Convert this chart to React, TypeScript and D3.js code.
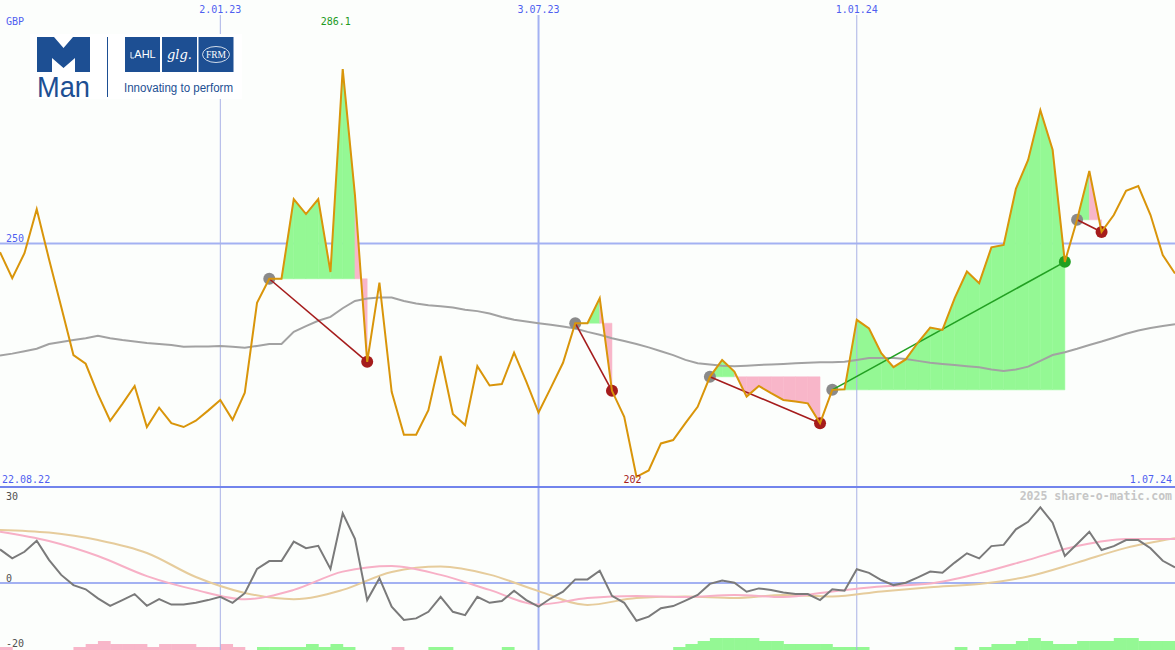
import React from "react";
import * as d3 from "d3";

// ---------- DATA ----------
const startDate = new Date(2022, 7, 29);
const endDate = new Date(2024, 6, 1);
const weeks: Date[] = d3.timeMonday.range(startDate, new Date(2024, 6, 2));

const price: number[] = [
  248.2, 242.8, 248.0, 257.1, 246.8, 236.9, 226.9, 225.1, 218.8, 213.3,
  216.8, 220.5, 212.0, 216.0, 212.8, 212.0, 213.3, 215.4, 217.6, 213.5,
  219.1, 237.7, 242.7, 242.7, 259.2, 256.1, 259.2, 244.1, 286.1, 260.0,
  225.5, 241.9, 219.3, 210.4, 210.4, 215.5, 226.7, 214.7, 212.4, 224.6,
  220.6, 220.9, 227.4, 221.4, 215.0, 220.1, 225.3, 233.5, 233.5, 238.7,
  219.5, 214.1, 201.7, 203.0, 208.6, 209.3, 212.8, 216.2, 222.4, 225.9,
  223.5, 218.3, 220.5, 219.0, 217.6, 217.3, 216.9, 212.8, 219.7, 219.8,
  234.2, 232.4, 227.3, 224.4, 226.0, 229.5, 232.6, 232.1, 238.7, 244.2,
  241.8, 249.2, 249.7, 261.3, 267.3, 277.6, 269.4, 246.2, 254.9, 265.0,
  252.4, 255.9, 260.9, 261.9, 255.9, 247.6, 243.8,
];

const movingAvg: number[] = [
  226.8, 227.2, 227.7, 228.2, 229.2, 229.6, 230.0, 230.4, 230.9, 230.4,
  230.0, 229.7, 229.4, 229.2, 229.0, 228.6, 228.7, 228.7, 228.8, 228.6,
  228.4, 228.8, 229.2, 229.2, 231.7, 232.9, 234.0, 234.8, 236.6, 238.1,
  238.6, 238.8, 238.8, 238.1, 237.6, 237.2, 237.0, 236.75, 236.3, 236.0,
  235.5, 234.8, 234.2, 233.85, 233.5, 233.2, 232.8, 232.4, 231.7, 231.1,
  230.4, 229.8, 229.2, 228.5, 227.7, 226.9, 225.9, 225.2, 224.95, 224.7,
  224.6, 224.7, 224.85, 224.95, 225.05, 225.2, 225.3, 225.4, 225.4, 225.5,
  225.9, 226.3, 226.3, 226.3, 226.1, 225.7, 225.3, 225.05, 224.85, 224.6,
  224.4, 223.9, 223.6, 223.9, 224.5, 225.7, 226.9, 227.5, 228.2, 229.0,
  229.7, 230.5, 231.3, 232.0, 232.5, 232.9, 233.3,
];

const momentum: number[] = [
  11.2, 8.2, 10.4, 14.1, 7.7, 2.7, -0.7, -2.1, -5.1, -7.6,
  -5.7, -3.7, -7.6, -5.4, -7.2, -7.2, -6.6, -5.7, -4.6, -6.6,
  -3.4, 4.7, 7.3, 7.3, 13.8, 11.6, 12.4, 4.7, 23.2, 14.7,
  -5.7, 1.6, -7.9, -12.3, -11.8, -9.6, -4.6, -9.6, -10.7, -4.6,
  -6.6, -6.0, -2.6, -5.7, -7.9, -5.1, -2.9, 1.2, 1.2, 4.1,
  -4.3, -6.6, -12.6, -11.2, -8.4, -7.7, -5.9, -4.0, -0.3, 0.8,
  0.1, -2.9, -1.8, -2.3, -3.2, -3.7, -3.7, -5.7, -2.1, -2.6,
  4.6, 3.4, 1.0, -0.7, 0.1, 1.9, 3.8, 3.4, 6.8, 9.9,
  8.2, 12.3, 12.7, 17.9, 20.4, 25.2, 20.1, 9.0, 13.0, 17.1,
  11.0, 12.3, 14.3, 14.3, 11.6, 7.4, 5.2,
];

// smoothed signal lines, sampled every 4th week (week index 0, 4, 8 ... 96)
const signalWeekIdx: number[] = [0, 4, 8, 12, 16, 20, 24, 28, 32, 36, 40, 44, 48, 52, 56, 60, 64, 68, 72, 76, 80, 84, 88, 92, 96];
const signalFast: number[] = [17.1, 14.0, 9.0, 2.3, -2.3, -5.4, -2.3, 3.8, 5.7, 2.7, -2.3, -7.2, -5.0, -4.3, -4.7, -4.0, -4.7, -2.8, -1.2, -0.2, 3.2, 7.7, 12.3, 14.7, 14.7];
const signalSlow: number[] = [17.7, 16.8, 14.3, 10.0, 2.0, -3.3, -5.4, -2.3, 3.7, 5.5, 2.8, -2.7, -7.3, -5.0, -4.5, -5.0, -4.0, -4.5, -2.8, -1.4, -0.3, 2.2, 6.8, 11.7, 14.9];

// weekly histogram level (+ green, - pink)
const histogram: number[] = [
  -1, 0, 0, 0, 0, 0, -1, -2, -3, -2,
  -2, -2, -1, -2, -2, -2, -1, -1, -2, -1,
  0, 1, 1, 1, 1, 2, 1, 2, 1, 0,
  0, 0, -1, 0, 0, 1, 1, 0, 0, 0,
  0, 1, 0, 0, 0, 0, 0, 0, 0, 0,
  0, 0, 0, 0, 0, 1, 2, 3, 4, 4,
  4, 4, 3, 3, 2, 2, 2, 2, 1, 1,
  1, 0, 0, 0, 0, 0, 0, 0, 1, 0,
  1, 2, 2, 3, 4, 3, 2, 2, 3, 3,
  3, 4, 4, 3, 3, 3, 0,
];

// trades (week indices)
const tradeEntry: number[] = [22, 47, 58, 68, 88];
const tradeExit: number[] = [30, 50, 67, 87, 90];

const gridDates: Date[] = [new Date(2023, 0, 2), new Date(2023, 6, 3), new Date(2024, 0, 1)];
const gridLabels: string[] = ["2.01.23", "3.07.23", "1.01.24"];
const priceGridValues: number[] = [250];
const lowTicks: number[] = [30, 0, -20];
const startLabel = "22.08.22";
const endLabel = "1.07.24";
const currency = "GBP";
const credit = "2025 share-o-matic.com";

// ---------- LAYOUT ----------
const W = 1175;
const H = 650;
const MAIN_BOTTOM = 487;

const x = d3.scaleTime().domain([startDate, endDate]).range([0, W]);
const y = d3.scaleLinear().domain([200, 300]).range([485, 2]);
const yLow = d3.scaleLinear().domain([-20, 30]).range([643, 493]);
const barH = d3.scaleLinear().domain([0, 4]).range([0, 12]);

const C = {
  bg: "#fcfefc",
  grid: "#a3b1f2",
  gridThin: "#aab2e6",
  border: "#7284ec",
  label: "#4f5ff0",
  price: "#d9950a",
  ma: "#a2a2a2",
  green: "#94f894",
  pink: "#f8b6c9",
  darkRed: "#a51c1c",
  darkGreen: "#22a022",
  grey: "#8a8a8a",
  mom: "#7a7a7a",
  fast: "#f7b0c6",
  slow: "#e6cc9c",
  logo: "#1d4f93",
};

const mono = "'DejaVu Sans Mono', monospace";

function Logo() {
  const bx = 37, by = 37;
  const mPts = [
    [0, 0], [17, 0], [26.5, 11], [36, 0], [53, 0], [53, 35], [38, 35], [38, 21],
    [26.5, 31], [15, 21], [15, 35], [0, 35],
  ].map((p) => `${bx + p[0]},${by + p[1]}`).join(" ");
  return (
    <g>
      <rect x={30} y={34} width={212} height={65} fill="#ffffff" />
      <polygon points={mPts} fill={C.logo} />
      <text x={37} y={97} fontFamily="'Liberation Sans', Arial, sans-serif" fontSize={29}
        fill={C.logo} textLength={53} lengthAdjust="spacingAndGlyphs">Man</text>
      <line x1={107.5} x2={107.5} y1={37} y2={97} stroke={C.logo} strokeWidth={1} />
      <rect x={125} y={37} width={35} height={35} fill={C.logo} />
      <rect x={162} y={37} width={35} height={35} fill={C.logo} />
      <rect x={198.5} y={37} width={35} height={35} fill={C.logo} />
      <path d="M131,52 L131,58 L134,58" stroke="#fff" strokeWidth={0.9} fill="none" />
      <text x={145} y={58} textAnchor="middle" fontFamily="'Liberation Sans', Arial, sans-serif"
        fontSize={11} fill="#fff">AHL</text>
      <text x={179.5} y={59} textAnchor="middle" fontFamily="'DejaVu Serif', serif" fontStyle="italic"
        fontSize={13} fill="#fff">glg.</text>
      <ellipse cx={216} cy={54.5} rx={13.5} ry={8} fill="none" stroke="#fff" strokeWidth={0.8} />
      <text x={216} y={58} textAnchor="middle" fontFamily="'Liberation Serif', serif"
        fontSize={9.5} fill="#fff">FRM</text>
      <text x={124} y={92} fontFamily="'Liberation Sans', Arial, sans-serif" fontSize={12}
        fill={C.logo} textLength={109} lengthAdjust="spacingAndGlyphs">Innovating to perform</text>
    </g>
  );
}

export default function App() {
  const px = (i: number) => x(weeks[i]);
  const priceLine = d3.line<number>().x((_, i) => px(i)).y((v) => y(v))(price) || "";
  const maLine = d3.line<number>().x((_, i) => px(i)).y((v) => y(v))(movingAvg) || "";
  const momLine = d3.line<number>().x((_, i) => px(i)).y((v) => yLow(v))(momentum) || "";
  const sigLine = (vals: number[]) =>
    d3.line<number>().curve(d3.curveMonotoneX).x((_, k) => px(signalWeekIdx[k])).y((v) => yLow(v))(vals) || "";

  // trade fills: one quad per weekly segment, coloured by the segment's end vs entry level
  const fills: { d: string; c: string }[] = [];
  tradeEntry.forEach((e, t) => {
    const L = price[e];
    for (let i = e; i < tradeExit[t]; i++) {
      const d = `M${px(i)},${y(L)}L${px(i)},${y(price[i])}L${px(i + 1)},${y(price[i + 1])}L${px(i + 1)},${y(L)}Z`;
      fills.push({ d, c: price[i + 1] >= L ? C.green : C.pink });
    }
  });

  const maxI = price.indexOf(d3.max(price) as number);
  const minI = price.indexOf(d3.min(price) as number);

  return (
    <svg width={W} height={H} style={{ position: "absolute", left: 0, top: 0, display: "block" }}>
      <rect x={0} y={0} width={W} height={H} fill={C.bg} />

      {/* horizontal grid */}
      {priceGridValues.map((v) => (
        <line key={v} x1={0} x2={W} y1={y(v)} y2={y(v)} stroke={C.grid} strokeWidth={2} />
      ))}
      <line x1={0} x2={W} y1={yLow(0)} y2={yLow(0)} stroke={C.grid} strokeWidth={2} />

      {/* histogram */}
      {histogram.map((v, i) =>
        v === 0 || i >= weeks.length - 1 ? null : (
          <rect key={i} x={px(i)} width={px(i + 1) - px(i) + 0.5} y={H - barH(Math.abs(v))}
            height={barH(Math.abs(v))} fill={v > 0 ? C.green : C.pink} />
        )
      )}

      {/* trade fills */}
      {fills.map((f, i) => (
        <path key={i} d={f.d} fill={f.c} stroke={f.c} strokeWidth={0.5} />
      ))}

      {/* vertical grid */}
      {gridDates.map((d, i) => (
        <line key={i} x1={x(d)} x2={x(d)} y1={15} y2={H}
          stroke={i === 1 ? C.grid : C.gridThin} strokeWidth={i === 1 ? 2 : 1} />
      ))}
      <line x1={0} x2={W} y1={MAIN_BOTTOM} y2={MAIN_BOTTOM} stroke={C.border} strokeWidth={2} />

      <Logo />

      {/* moving average */}
      <path d={maLine} fill="none" stroke={C.ma} strokeWidth={2} />

      {/* trade markers */}
      {tradeEntry.map((e, t) => {
        const xo = tradeExit[t];
        const win = price[xo] > price[e];
        return (
          <g key={t}>
            <circle cx={px(e)} cy={y(price[e])} r={6} fill={C.grey} />
            <circle cx={px(xo)} cy={y(price[xo])} r={6} fill={win ? C.darkGreen : C.darkRed} />
            <line x1={px(e)} y1={y(price[e])} x2={px(xo)} y2={y(price[xo])}
              stroke={win ? C.darkGreen : C.darkRed} strokeWidth={1.6} />
          </g>
        );
      })}

      {/* price */}
      <path d={priceLine} fill="none" stroke={C.price} strokeWidth={2} strokeLinejoin="miter" />

      {/* lower panel lines */}
      <path d={sigLine(signalSlow)} fill="none" stroke={C.slow} strokeWidth={2} />
      <path d={sigLine(signalFast)} fill="none" stroke={C.fast} strokeWidth={2} />
      <path d={momLine} fill="none" stroke={C.mom} strokeWidth={2} />

      {/* labels */}
      <g fontFamily={mono} fontSize={10}>
        {gridDates.map((d, i) => (
          <text key={i} x={x(d)} y={13} textAnchor="middle" fill={C.label}>{gridLabels[i]}</text>
        ))}
        <text x={6} y={25} fill={C.label}>{currency}</text>
        <text x={px(maxI) - 7} y={25} textAnchor="middle" fill="#229a22">{price[maxI].toFixed(1)}</text>
        {priceGridValues.map((v) => (
          <text key={v} x={6} y={y(v) - 2} fill={C.label}>{v}</text>
        ))}
        <text x={2} y={483} fill={C.label}>{startLabel}</text>
        <text x={W - 3} y={483} textAnchor="end" fill={C.label}>{endLabel}</text>
        <text x={px(minI) - 4} y={483} textAnchor="middle" fill={C.darkRed}>{Math.round(price[minI])}</text>
        {lowTicks.map((v) => (
          <text key={v} x={6} y={v === 0 ? yLow(v) - 1 : v > 0 ? yLow(v) + 7 : yLow(v) + 4} fill="#505050">{v}</text>
        ))}
        <text x={W - 3} y={500} textAnchor="end" fill="#c6c6c6" fontWeight="bold" fontSize={11.5}>{credit}</text>
      </g>
    </svg>
  );
}
